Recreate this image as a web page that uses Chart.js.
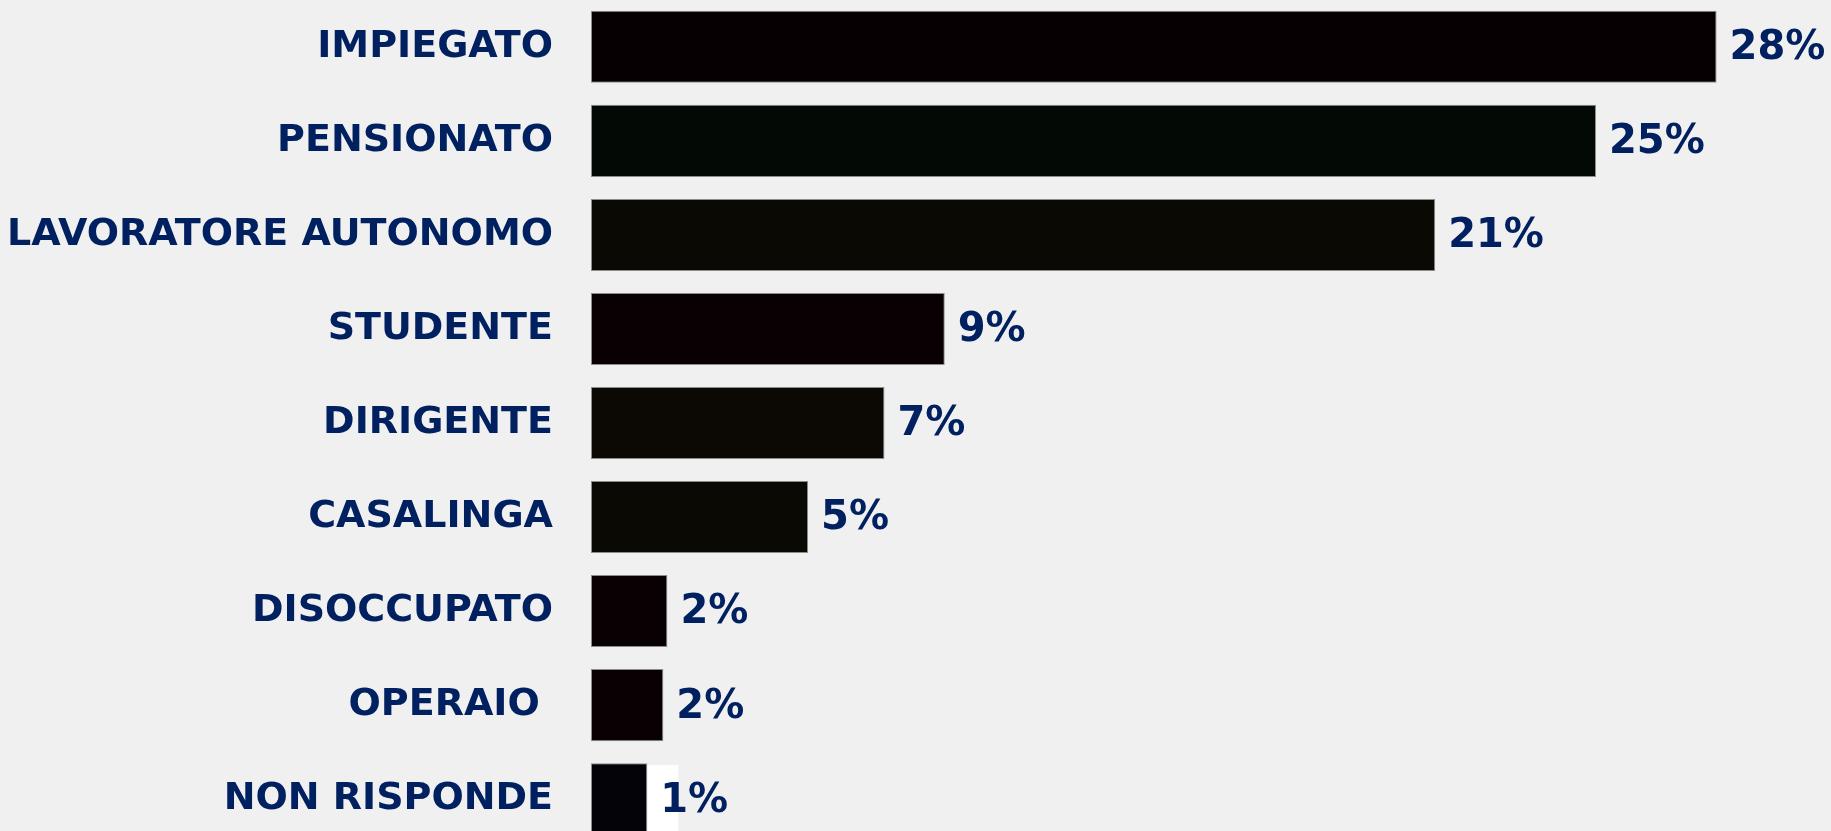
<!DOCTYPE html>
<html>
<head>
<meta charset="utf-8">
<script src="https://cdn.jsdelivr.net/npm/chart.js@4.4.1/dist/chart.umd.min.js"></script>
<style>
    html, body { margin: 0; padding: 0; background: #f0f0f0; overflow: hidden; }
    #wrap { width: 1831px; height: 831px; overflow: hidden; }
    #myChart { display: block; margin-top: -23px; }
</style>
</head>
<body>
<div id="wrap"><canvas id="myChart" width="1831" height="892"></canvas></div>
<script>
"use strict";

// categories and values (percent)
var categories = ['IMPIEGATO', 'PENSIONATO', 'LAVORATORE AUTONOMO', 'STUDENTE', 'DIRIGENTE',
    'CASALINGA', 'DISOCCUPATO', 'OPERAIO ', 'NON RISPONDE'];
var values = [28, 25, 21, 8.8, 7.3, 5.4, 1.9, 1.8, 1.4];
var labels = ['28%', '25%', '21%', '9%', '7%', '5%', '2%', '2%', '1%'];
var barColors = ['#070003', '#030904', '#0a0904', '#090004', '#0c0803', '#0b0903', '#090004', '#090004', '#030308'];

// draws the percentage next to each bar
var valueLabels = {
    id: 'valueLabels',
    beforeDatasetsDraw: function (chart) {
        // white patch behind the last label, as in the original
        var meta = chart.getDatasetMeta(0);
        var last = meta.data[meta.data.length - 1];
        chart.ctx.save();
        chart.ctx.fillStyle = '#ffffff';
        chart.ctx.fillRect(last.x, last.y - last.height / 2 + 2, 31, last.height);
        chart.ctx.restore();
    },
    afterDatasetsDraw: function (chart) {
        var ctx = chart.ctx;
        var meta = chart.getDatasetMeta(0);
        ctx.save();
        ctx.font = 'bold 40px "DejaVu Sans"';
        ctx.fillStyle = '#002060';
        ctx.textAlign = 'left';
        ctx.textBaseline = 'middle';
        meta.data.forEach(function (bar, i) {
            ctx.fillText(labels[i], bar.x + 13, bar.y + 2);
        });
        ctx.restore();
    }
};

var ctx = document.getElementById('myChart').getContext('2d');
var myChart = new Chart(ctx, {
    type: 'bar',
    data: {
        labels: categories,
        datasets: [{
            data: values,
            backgroundColor: barColors,
            borderColor: '#8c8c8c',
            borderWidth: 1,
            borderSkipped: false,
            categoryPercentage: 1,
            barPercentage: 0.766
        }]
    },
    options: {
        indexAxis: 'y',
        responsive: false,
        animation: false,
        devicePixelRatio: 1,
        layout: { padding: { left: 0, right: 34, top: 0, bottom: 0 } },
        plugins: {
            legend: { display: false },
            tooltip: { enabled: false }
        },
        scales: {
            x: {
                display: false,
                min: 0,
                max: 30
            },
            y: {
                grid: { display: false, drawTicks: true, tickLength: 38, tickColor: 'rgba(0,0,0,0)' },
                border: { display: false },
                afterFit: function (scale) { scale.width = 591; },
                ticks: {
                    padding: 0,
                    color: '#002060',
                    font: { family: 'DejaVu Sans', size: 38, weight: 'bold' }
                }
            }
        }
    },
    plugins: [valueLabels]
});
</script>
</body>
</html>
